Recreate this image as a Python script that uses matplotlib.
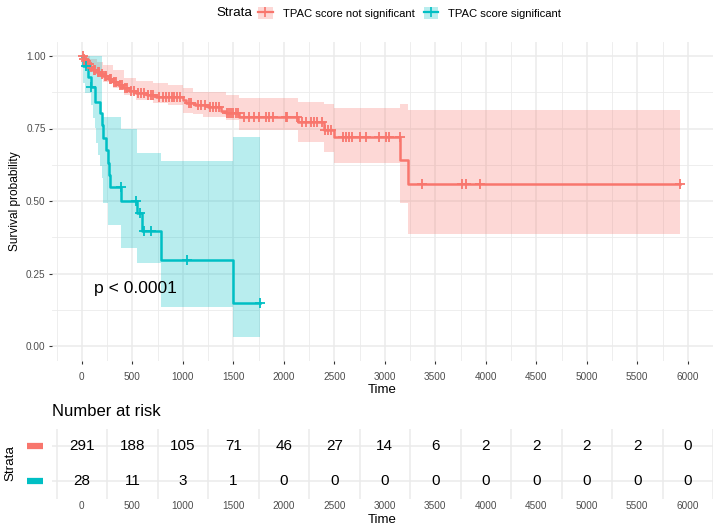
import matplotlib
matplotlib.use("Agg")
import matplotlib.pyplot as plt
import numpy as np
from matplotlib.patches import Patch
from matplotlib.lines import Line2D
from matplotlib.legend_handler import HandlerTuple
from matplotlib.transforms import blended_transform_factory

plt.rcParams['font.family'] = ['Liberation Sans', 'DejaVu Sans']

# ---- Kaplan-Meier estimates (step times / survival) ----
strata = ['TPAC score not significant', 'TPAC score significant']
colors = ['#F8766D', '#00BFC4']

red_time = [0, 15, 30, 50, 79, 100, 140, 180, 210, 260, 309, 360, 408, 470, 540,
            640, 737, 1000, 1033, 1120, 1250, 1380, 1428, 1559, 2141, 2398, 2497,
            3155, 3227]
red_surv = [1.0, 0.990, 0.983, 0.972, 0.962, 0.952, 0.945, 0.938, 0.931, 0.921,
            0.911, 0.900, 0.889, 0.880, 0.871, 0.865, 0.860, 0.848, 0.837, 0.830,
            0.825, 0.812, 0.802, 0.791, 0.771, 0.745, 0.720, 0.641, 0.559]
red_censor = [8, 22, 45, 65, 72, 90, 115, 128, 160, 170, 195, 225, 240, 275, 290,
              320, 340, 375, 395, 425, 445, 490, 515, 560, 590, 610, 650, 680, 700,
              760, 800, 830, 860, 890, 910, 940, 970, 1060, 1085, 1150, 1180, 1220,
              1270, 1300, 1330, 1360, 1440, 1460, 1480, 1500, 1525, 1545, 1609,
              1658, 1707, 1757, 1823, 1855, 1888, 2020, 2036, 2135, 2184, 2223,
              2267, 2299, 2332, 2381, 2408, 2438, 2464, 2589, 2612, 2645, 2678,
              2754, 2810, 2941, 3014, 3040, 3150, 3365, 3760, 3806, 3947, 5925]
red_band_time = [0, 15, 80, 150, 210, 309, 420, 540, 700, 850, 1000, 1100, 1200,
                 1430, 1560, 2141, 2398, 2497, 3155, 3227]
red_upper = [1.0, 1.0, 0.99, 0.98, 0.969, 0.952, 0.925, 0.915, 0.906, 0.90, 0.889,
             0.877, 0.877, 0.866, 0.856, 0.842, 0.834, 0.820, 0.834, 0.814]
red_lower = [1.0, 0.97, 0.95, 0.93, 0.911, 0.889, 0.866, 0.85, 0.837, 0.83, 0.802,
             0.80, 0.791, 0.779, 0.745, 0.704, 0.670, 0.632, 0.492, 0.385]

cyan_time = [0, 12, 60, 88, 125, 175, 194, 207, 240, 257, 266, 276, 392, 545, 595,
             786, 1493]
cyan_surv = [1.0, 0.964, 0.929, 0.893, 0.842, 0.805, 0.762, 0.716, 0.676, 0.630,
             0.590, 0.548, 0.501, 0.458, 0.397, 0.297, 0.149]
cyan_censor = [40, 92, 385, 540, 580, 610, 680, 1043, 1767]
cyan_band_time = [0, 12, 33, 92, 108, 128, 140, 158, 175, 194, 207, 257, 392, 545,
                  786, 1493]
cyan_upper = [1.0, 1.0, 1.0, 1.0, 1.0, 1.0, 1.0, 1.0, 1.0, 0.79, 0.79, 0.79, 0.748,
              0.665, 0.639, 0.722]
cyan_lower = [1.0, 0.908, 0.871, 0.831, 0.785, 0.752, 0.70, 0.66, 0.62, 0.58, 0.493,
              0.417, 0.337, 0.286, 0.136, 0.031]

# number at risk table
risk_times = [0, 500, 1000, 1500, 2000, 2500, 3000, 3500, 4000, 4500, 5000, 5500, 6000]
risk_red = [291, 188, 105, 71, 46, 27, 14, 6, 2, 2, 2, 2, 0]
risk_cyan = [28, 11, 3, 1, 0, 0, 0, 0, 0, 0, 0, 0, 0]

curves = [
    (red_time, red_surv, red_censor, red_band_time, red_upper, red_lower),
    (cyan_time, cyan_surv, cyan_censor, cyan_band_time, cyan_upper, cyan_lower),
]

t_max = max(red_censor + cyan_censor)
xlim = (-0.05 * t_max, 1.05 * t_max)
grid_col = '#EBEBEB'
tick_col = '#4D4D4D'

W, H = 717, 528
fig = plt.figure(figsize=(W / 100, H / 100), dpi=100)

def fbox(l, t, r, b):
    return [l / W, 1 - b / H, (r - l) / W, (b - t) / H]

ax = fig.add_axes(fbox(52, 41.5, 713, 360.5))
ax_r = fig.add_axes(fbox(52, 428.5, 713, 498.5))

# ---- survival curves ----
for (t, s, cens, bt, up, lo), col in zip(curves, colors):
    end = max(cens)
    te = np.append(t, end)
    se = np.append(s, s[-1])
    bte = np.append(bt, end)
    ax.fill_between(bte, np.append(lo, lo[-1]), np.append(up, up[-1]),
                    step='post', color=col, alpha=0.28, lw=0, zorder=2)
    ax.step(te, se, where='post', color=col, lw=1.8, zorder=3)
    idx = np.searchsorted(t, cens, side='right') - 1
    ax.plot(cens, np.asarray(s)[idx], ls='none', marker='+', ms=7, mew=1.3,
            color=col, zorder=4)

ax.set_xlim(*xlim)
ax.set_ylim(-0.05, 1.05)
ax.set_xticks(risk_times)
ax.set_xticks(np.arange(-250, 6300, 500), minor=True)
ax.set_yticks([0, 0.25, 0.5, 0.75, 1.0])
ax.set_yticklabels(['0.00', '0.25', '0.50', '0.75', '1.00'])
ax.set_yticks([0.125, 0.375, 0.625, 0.875], minor=True)
ax.grid(which='major', color=grid_col, lw=1.1)
ax.grid(which='minor', color=grid_col, lw=0.6)
ax.set_axisbelow(True)
for sp in ax.spines.values():
    sp.set_visible(False)
ax.tick_params(which='major', length=2.5, width=0.8, color='#333333',
               labelsize=7.2, labelcolor=tick_col, pad=2)
ax.tick_params(axis='x', which='major', pad=6)
ax.tick_params(which='minor', length=0)
ax.set_xlabel('Time', fontsize=9.5, labelpad=1)
ax.set_ylabel('Survival probability', fontsize=8.6, labelpad=4)
ax.text(t_max / 50, 0.2, 'p < 0.0001', fontsize=12.6, va='center', ha='left')

# ---- legend ----
fig.text(216 / W, 1 - 13 / H, 'Strata', fontsize=9.6, va='center', ha='left')
handles = [(Patch(facecolor=c, alpha=0.28, lw=0),
            Line2D([], [], color=c, lw=1.6, marker='+', ms=7, mew=1.2))
           for c in colors]
fig.legend(handles, strata, ncol=2, loc='center left',
           bbox_to_anchor=(258 / W, 1 - 13 / H), frameon=False, fontsize=8.1,
           handlelength=1.3, handleheight=1.3, handletextpad=0.9,
           columnspacing=0.8, borderpad=0, borderaxespad=0,
           handler_map={tuple: HandlerTuple(ndivide=1)})

# ---- risk table ----
rows = [2, 1]
for y, counts in zip(rows, [risk_red, risk_cyan]):
    for t, n in zip(risk_times, counts):
        ax_r.text(t, y, str(n), ha='center', va='center', fontsize=11)

ax_r.set_xlim(*xlim)
ax_r.set_ylim(0.5, 2.5)
ax_r.set_xticks(risk_times)
ax_r.set_xticks(np.arange(-250, 6300, 500), minor=True)
ax_r.set_yticks(rows)
ax_r.set_yticklabels([])
ax_r.grid(axis='x', which='minor', color=grid_col, lw=1.1)
ax_r.grid(axis='y', which='major', color=grid_col, lw=1.1)
ax_r.set_axisbelow(True)
for sp in ax_r.spines.values():
    sp.set_visible(False)
ax_r.tick_params(which='both', length=0, labelsize=7.2, labelcolor=tick_col, pad=2)
ax_r.set_xlabel('Time', fontsize=9.5, labelpad=2)

# coloured strata keys left of the table rows
key_tr = blended_transform_factory(fig.transFigure, ax_r.transData)
for y, c in zip(rows, colors):
    ax_r.plot([27 / W, 43 / W], [y, y], color=c, lw=4.5, transform=key_tr,
              clip_on=False, solid_capstyle='butt')
fig.text(10 / W, 1 - 463 / H, 'Strata', rotation=90, fontsize=9.6,
         va='center', ha='center')
fig.text(52 / W, 1 - 412 / H, 'Number at risk', fontsize=12,
         va='center', ha='left')

fig.savefig('out.png', dpi=100)
